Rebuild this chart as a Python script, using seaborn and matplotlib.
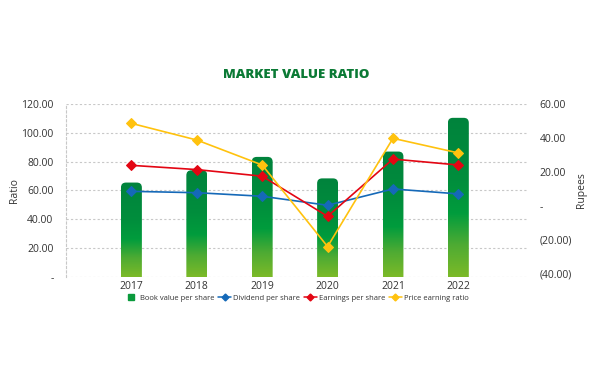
import numpy as np
import pandas as pd
import matplotlib
matplotlib.use('Agg')
import matplotlib.pyplot as plt
import seaborn as sns
from matplotlib.patches import FancyBboxPatch
from matplotlib.lines import Line2D
from matplotlib.colors import LinearSegmentedColormap

years = ['2017', '2018', '2019', '2020', '2021', '2022']
book_value = [65.5, 74.0, 83.3, 68.4, 87.0, 110.4]
dividend = [8.6, 7.8, 5.7, 0.4, 10.0, 7.1]
earnings = [23.9, 21.4, 17.5, -6.1, 27.6, 24.1]
pe_ratio = [48.6, 38.8, 24.1, -23.9, 39.8, 31.2]

left_ticks = [0, 20, 40, 60, 80, 100, 120]
left_labels = ['-', '20.00', '40.00', '60.00', '80.00', '100.00', '120.00']
right_ticks = [-40, -20, 0, 20, 40, 60]
right_labels = ['(40.00)', '(20.00)', '-', '20.00', '40.00', '60.00']

c_blue = '#1569B8'
c_red = '#E30613'
c_yellow = '#FFC20E'
txt = '#333333'

sns.set_style('white')
plt.rcParams['font.family'] = ['Open Sans', 'DejaVu Sans']

fig = plt.figure(figsize=(6.08, 3.71), dpi=100)
ax = fig.add_axes([0.1086, 0.2534, 0.7582, 0.4663])

df = pd.DataFrame({'year': years, 'book': book_value})
sns.barplot(data=df, x='year', y='book', ax=ax, width=0.32, color='#009A3D', alpha=0.0)

ax.set_xlim(-1.0, 6.05)
ax.set_ylim(0, 120)

# gradient bars with rounded tops
grad = LinearSegmentedColormap.from_list('g', [(0, '#7CBA28'), (0.2, '#4EAB33'),
                                               (0.4, '#009C3D'), (0.6, '#008E3C'),
                                               (1, '#00833D')])
gimg = np.linspace(0, 1, 256).reshape(-1, 1)
xpx = 65.4
ypx = 1.437
r = 5 / xpx
for p in ax.patches:
    x0 = p.get_x()
    w = p.get_width()
    h = p.get_height()
    fp = FancyBboxPatch((x0, -10), w, h + 10,
                        boxstyle='round,pad=0,rounding_size=%f' % r,
                        mutation_aspect=xpx / ypx,
                        facecolor='none', edgecolor='none', transform=ax.transData)
    ax.add_patch(fp)
    im = ax.imshow(gimg, cmap=grad, aspect='auto', origin='lower',
                   extent=(x0, x0 + w, 0, h), zorder=2)
    im.set_clip_path(fp)

ax.set_xlim(-1.0, 6.05)
ax.set_ylim(0, 120)

ax.set_yticks(left_ticks)
ax.set_yticklabels(left_labels)
ax.set_xticks(range(len(years)))
ax.set_xticklabels(years)
ax.tick_params(axis='both', length=0, labelsize=7.5, colors=txt)
ax.tick_params(axis='y', pad=9)
ax.tick_params(axis='x', pad=3)
ax.set_xlabel('')
ax.set_ylabel('Ratio', fontsize=7.5, color=txt, labelpad=1)
ax.yaxis.grid(True, linestyle=(0, (2, 2)), color='#C8C8C8', linewidth=0.8)
ax.set_axisbelow(True)
for s in ['top', 'right', 'bottom']:
    ax.spines[s].set_visible(False)
ax.spines['left'].set_linestyle((0, (2, 2)))
ax.spines['left'].set_color('#C8C8C8')
ax.spines['left'].set_linewidth(0.8)

ax2 = ax.twinx()
pos = np.arange(len(years))
for vals, col in [(dividend, c_blue), (earnings, c_red), (pe_ratio, c_yellow)]:
    sns.lineplot(x=pos, y=vals, ax=ax2, color=col, marker='D', markersize=5.5,
                 markeredgecolor=col, linewidth=1.2)
ax2.set_ylim(-41.8, 60)
ax2.set_yticks(right_ticks)
ax2.set_yticklabels(right_labels)
ax2.tick_params(axis='y', length=0, labelsize=7.5, colors=txt, pad=9)
ax2.set_ylabel('Rupees', fontsize=7.5, color=txt, labelpad=3)
for s in ax2.spines.values():
    s.set_visible(False)
ax2.set_xlim(-1.0, 6.05)

fig.text(0.487, 0.797, 'MARKET VALUE RATIO', ha='center', va='center',
         fontsize=9.5, fontweight='heavy', color='#0B7A35')

handles = [
    Line2D([], [], linestyle='none', marker='s', markersize=4.5, color='#0A9A3C'),
    Line2D([], [], color=c_blue, marker='D', markersize=3.5, linewidth=1.1),
    Line2D([], [], color=c_red, marker='D', markersize=3.5, linewidth=1.1),
    Line2D([], [], color=c_yellow, marker='D', markersize=3.5, linewidth=1.1),
]
labels = ['Book value per share', 'Dividend per share', 'Earnings per share', 'Price earning ratio']
leg = fig.legend(handles, labels, loc='center', bbox_to_anchor=(0.488, 0.197), ncol=4,
                 frameon=False, fontsize=5.5, handlelength=1.7, handletextpad=0.25,
                 columnspacing=0.5)
for t in leg.get_texts():
    t.set_color(txt)

fig.savefig('out.png', dpi=100)
